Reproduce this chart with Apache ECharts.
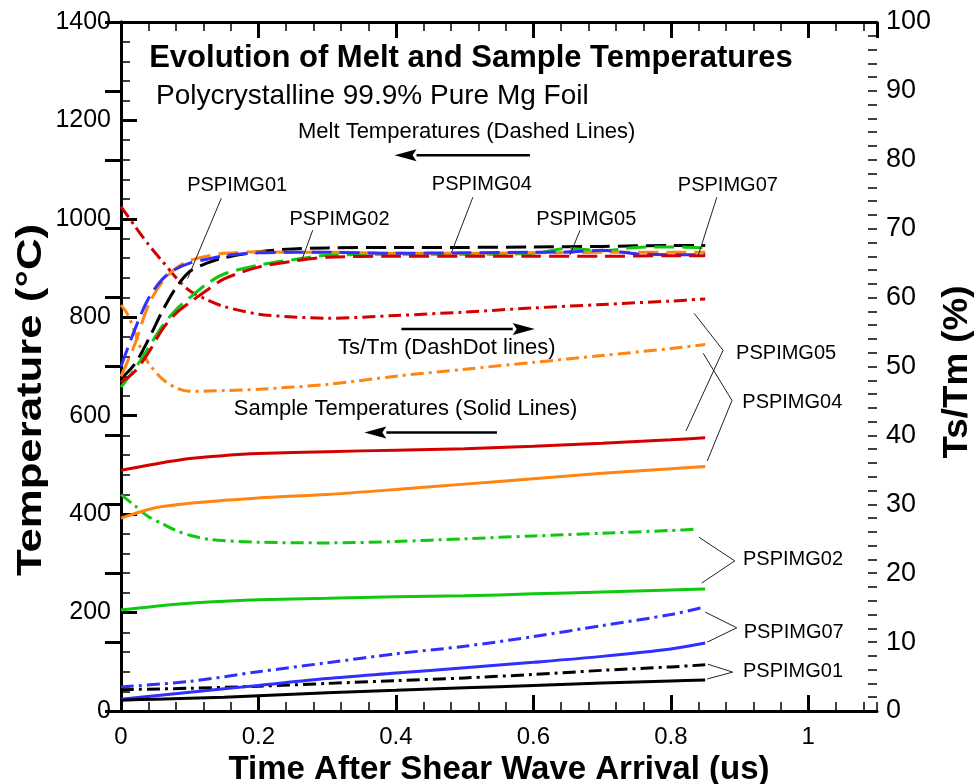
<!DOCTYPE html>
<html>
<head>
<meta charset="utf-8">
<script src="https://cdn.jsdelivr.net/npm/echarts@6/dist/echarts.min.js"></script>
<style>
  html, body { margin: 0; background: #fff; }
  #chart { width: 978px; height: 784px; }
</style>
</head>
<body>
<div id="chart"></div>
<script>
  const FONT = '"Liberation Sans", Arial, sans-serif';

  // time axis (us)
  const tMelt = [0, 0.02, 0.04, 0.06, 0.08, 0.1, 0.125, 0.15, 0.2, 0.25, 0.3, 0.4, 0.5, 0.6, 0.7, 0.8, 0.85];
  const tMeltBump = [0, 0.02, 0.04, 0.06, 0.08, 0.1, 0.125, 0.15, 0.2, 0.25, 0.3, 0.4, 0.5, 0.6, 0.65, 0.7, 0.75, 0.8, 0.85];
  const tSample = [0, 0.05, 0.1, 0.15, 0.2, 0.3, 0.4, 0.5, 0.6, 0.7, 0.8, 0.85];
  const tRatio = [0, 0.02, 0.04, 0.06, 0.08, 0.1, 0.125, 0.15, 0.2, 0.25, 0.3, 0.4, 0.5, 0.6, 0.7, 0.8, 0.85];
  const tRatio04 = [0, 0.01, 0.02, 0.03, 0.04, 0.06, 0.08, 0.1, 0.15, 0.2, 0.3, 0.4, 0.5, 0.6, 0.7, 0.8, 0.85];
  const tRatio02 = [0, 0.02, 0.04, 0.06, 0.08, 0.1, 0.13, 0.2, 0.3, 0.4, 0.5, 0.6, 0.7, 0.8, 0.84];
  const tLinear = [0, 0.1, 0.2, 0.3, 0.4, 0.5, 0.6, 0.7, 0.8, 0.85];

  // melt temperatures (°C) - dashed
  const melt01 = [675, 705, 755, 812, 860, 893, 910, 921, 933, 939, 941, 942, 942, 943, 944, 946, 946];
  const melt02 = [658, 695, 738, 782, 815, 840, 868, 888, 906, 917, 926, 928, 928, 930, 940, 935, 942, 943, 941];
  const melt04 = [680, 745, 825, 872, 900, 915, 924, 930, 933, 932, 932, 930, 930, 931, 932, 932, 932];
  const melt05 = [668, 690, 728, 775, 808, 830, 855, 878, 902, 914, 922, 924, 924, 924, 924, 925, 925];
  const melt07 = [700, 775, 838, 877, 898, 910, 918, 925, 931, 932, 932, 930, 931, 932, 933, 936, 929, 927, 927];

  // sample temperatures (°C) - solid
  const sample01 = [22, 24, 26, 28, 31, 37, 42, 47, 52, 57, 61, 63];
  const sample02 = [205, 213, 219, 223, 226, 229, 232, 234, 238, 242, 246, 248];
  const sample04 = [392, 413, 422, 428, 433, 440, 450, 461, 472, 483, 492, 497];
  const sample05 = [489, 502, 513, 519, 523, 527, 530, 533, 538, 544, 551, 555];
  const sample07 = [24, 31, 38, 45, 52, 66, 77, 88, 99, 111, 126, 138];

  // Ts/Tm (%) - dashdot
  const ratio01 = [3.1, 3.3, 3.6, 4.0, 4.4, 4.8, 5.3, 5.9, 6.4, 6.7];
  const ratio02 = [31.4, 29.8, 28.2, 27.2, 26.2, 25.5, 24.9, 24.5, 24.4, 24.6, 25.0, 25.4, 25.8, 26.2, 26.4];
  const ratio04 = [58.9, 57.5, 55.0, 52.3, 50.5, 48.2, 46.9, 46.4, 46.5, 46.7, 47.4, 48.6, 49.6, 50.6, 51.6, 52.6, 53.2];
  const ratio05 = [73.2, 70.4, 67.7, 65.3, 62.9, 61.0, 59.7, 58.7, 57.6, 57.2, 57.0, 57.4, 57.9, 58.5, 59.0, 59.5, 59.8];
  const ratio07 = [3.5, 4.3, 5.7, 7.0, 8.3, 9.4, 10.8, 12.4, 14.0, 15.1];

  const COLORS = { '01': '#000000', '02': '#10c810', '04': '#ff8410', '05': '#d40000', '07': '#2f2fff' };
  const DASHED = [20, 8];
  const DASHDOT = [13, 5, 3, 5];

  function pairs(xs, ys) {
    return xs.map((x, i) => [x, ys[i]]);
  }

  function line(name, id, xs, ys, dash, yIndex) {
    return {
      name: name,
      type: 'line',
      yAxisIndex: yIndex,
      data: pairs(xs, ys),
      showSymbol: false,
      symbol: 'none',
      smooth: 0.3,
      silent: true,
      lineStyle: { color: COLORS[id], width: 3, type: dash, cap: 'butt' }
    };
  }

  const series = [
    line('PSPIMG05 Ts/Tm', '05', tRatio, ratio05, DASHDOT, 1),
    line('PSPIMG04 Ts/Tm', '04', tRatio04, ratio04, DASHDOT, 1),
    line('PSPIMG02 Ts/Tm', '02', tRatio02, ratio02, DASHDOT, 1),
    line('PSPIMG07 Ts/Tm', '07', tLinear, ratio07, DASHDOT, 1),
    line('PSPIMG01 Ts/Tm', '01', tLinear, ratio01, DASHDOT, 1),
    line('PSPIMG01 melt', '01', tMelt, melt01, DASHED, 0),
    line('PSPIMG02 melt', '02', tMeltBump, melt02, DASHED, 0),
    line('PSPIMG04 melt', '04', tMelt, melt04, DASHED, 0),
    line('PSPIMG07 melt', '07', tMeltBump, melt07, DASHED, 0),
    line('PSPIMG05 melt', '05', tMelt, melt05, DASHED, 0),
    line('PSPIMG05 sample', '05', tSample, sample05, 'solid', 0),
    line('PSPIMG04 sample', '04', tSample, sample04, 'solid', 0),
    line('PSPIMG02 sample', '02', tSample, sample02, 'solid', 0),
    line('PSPIMG07 sample', '07', tSample, sample07, 'solid', 0),
    line('PSPIMG01 sample', '01', tSample, sample01, 'solid', 0)
  ];

  function xMajor(pos, withLabels) {
    return {
      type: 'value', position: pos, min: 0, max: 1.1, interval: 0.2,
      axisLine: { show: true, onZero: false, lineStyle: { color: '#000', width: 3 } },
      axisTick: { show: true, inside: true, length: 16, lineStyle: { color: '#000', width: 3 } },
      axisLabel: { show: withLabels, fontSize: 24, color: '#000', fontFamily: FONT, margin: 14, showMaxLabel: false },
      splitLine: { show: false },
      name: withLabels ? 'Time After Shear Wave Arrival (us)' : '',
      nameLocation: 'middle', nameGap: 40,
      nameTextStyle: { fontSize: 33, fontWeight: 'bold', color: '#000', fontFamily: FONT }
    };
  }
  // minor ticks are drawn by label-less companion axes
  function minorAxis(pos, max, step) {
    return {
      type: 'value', position: pos, min: 0, max: max, interval: step,
      axisLine: { show: false, onZero: false },
      axisTick: { show: true, inside: true, length: 9, lineStyle: { color: '#000', width: 1.5 } },
      axisLabel: { show: false },
      splitLine: { show: false }
    };
  }
  function yMajor(pos, max, interval, labelSize, margin) {
    return {
      type: 'value', position: pos, min: 0, max: max, interval: interval,
      axisLine: { show: true, lineStyle: { color: '#000', width: 3 } },
      axisTick: { show: true, inside: true, length: 16, lineStyle: { color: '#000', width: 3 } },
      axisLabel: { fontSize: labelSize, color: '#000', fontFamily: FONT, margin: margin, formatter: v => String(v) },
      splitLine: { show: false }
    };
  }

  const chart = echarts.init(document.getElementById('chart'));
  chart.setOption({
    animation: false,
    backgroundColor: '#fff',
    grid: { left: 121, right: 101, top: 22, bottom: 73, outerBoundsMode: 'none', containLabel: false },
    xAxis: [xMajor('bottom', true), minorAxis('bottom', 1.1, 0.04), xMajor('top', false), minorAxis('top', 1.1, 0.04)],
    yAxis: [
      yMajor('left', 1400, 200, 25, 10),
      yMajor('right', 100, 10, 27, 9),
      minorAxis('left', 1400, 40),
      minorAxis('right', 100, 2)
    ],
    series: series
  });

  // annotations, placed in data units of the left axis (us, °C)
  const notes = [
    { text: 'Evolution of Melt and Sample Temperatures', at: [0.041, 1326], size: 31, bold: true, align: 'left' },
    { text: 'Polycrystalline 99.9% Pure Mg Foil', at: [0.051, 1249], size: 28, align: 'left' },
    { text: 'Melt Temperatures (Dashed Lines)', at: [0.503, 1176], size: 22, align: 'center' },
    { text: 'Ts/Tm (DashDot lines)', at: [0.474, 737], size: 22, align: 'center' },
    { text: 'Sample Temperatures (Solid Lines)', at: [0.414, 613], size: 22, align: 'center' },
    { text: 'PSPIMG01', at: [0.169, 1068], size: 20, align: 'center' },
    { text: 'PSPIMG02', at: [0.318, 998], size: 20, align: 'center' },
    { text: 'PSPIMG04', at: [0.525, 1070], size: 20, align: 'center' },
    { text: 'PSPIMG05', at: [0.677, 998], size: 20, align: 'center' },
    { text: 'PSPIMG07', at: [0.883, 1068], size: 20, align: 'center' },
    { text: 'PSPIMG05', at: [0.895, 727], size: 20, align: 'left' },
    { text: 'PSPIMG04', at: [0.904, 627], size: 20, align: 'left' },
    { text: 'PSPIMG02', at: [0.905, 307], size: 20, align: 'left' },
    { text: 'PSPIMG07', at: [0.906, 160], size: 20, align: 'left' },
    { text: 'PSPIMG01', at: [0.905, 81], size: 20, align: 'left' }
  ];
  const leaders = [
    [[0.146, 1042], [0.097, 879]],
    [[0.279, 977], [0.264, 920]],
    [[0.512, 1044], [0.481, 932]],
    [[0.668, 977], [0.653, 926]],
    [[0.867, 1044], [0.840, 926]],
    [[0.834, 808], [0.876, 733], [0.822, 569]],
    [[0.847, 727], [0.889, 631], [0.853, 508]],
    [[0.841, 353], [0.893, 305], [0.845, 260]],
    [[0.850, 201], [0.896, 169], [0.853, 140]],
    [[0.854, 95], [0.890, 79], [0.853, 65]]
  ];
  const arrows = [
    { from: [0.595, 1129], to: [0.398, 1129] },
    { from: [0.408, 776], to: [0.602, 776] },
    { from: [0.547, 566], to: [0.354, 566] }
  ];

  function px(p) {
    return chart.convertToPixel({ xAxisIndex: 0, yAxisIndex: 0 }, p);
  }

  const graphic = [];
  notes.forEach(n => {
    const p = px(n.at);
    graphic.push({
      type: 'text', x: p[0], y: p[1], z: 100,
      style: {
        text: n.text, fill: '#000', fontFamily: FONT, fontSize: n.size,
        fontWeight: n.bold ? 'bold' : 'normal', align: n.align, verticalAlign: 'middle'
      }
    });
  });
  // axis titles: the reference type is a little wider than Liberation Sans
  graphic.push({
    type: 'text', x: 31, y: 400, rotation: Math.PI / 2, scaleX: 1.25, z: 100,
    style: { text: 'Temperature (°C)', fill: '#000', fontFamily: FONT, fontSize: 35, fontWeight: 'bold', align: 'center', verticalAlign: 'middle' }
  });
  graphic.push({
    type: 'text', x: 957, y: 372, rotation: Math.PI / 2, scaleX: 1.05, z: 100,
    style: { text: 'Ts/Tm (%)', fill: '#000', fontFamily: FONT, fontSize: 35, fontWeight: 'bold', align: 'center', verticalAlign: 'middle' }
  });
  leaders.forEach(l => {
    graphic.push({
      type: 'polyline', z: 100,
      shape: { points: l.map(px) },
      style: { stroke: '#222', lineWidth: 1, fill: null }
    });
  });
  arrows.forEach(a => {
    const f = px(a.from), t = px(a.to);
    const dir = Math.sign(t[0] - f[0]);
    const headLen = 22, headHalf = 6;
    const base = t[0] - dir * headLen;
    graphic.push({
      type: 'line', z: 100,
      shape: { x1: f[0], y1: f[1], x2: base, y2: t[1] },
      style: { stroke: '#000', lineWidth: 2.5 }
    });
    graphic.push({
      type: 'polygon', z: 100,
      shape: { points: [[t[0], t[1]], [base, t[1] - headHalf], [base + dir * 4, t[1]], [base, t[1] + headHalf]] },
      style: { fill: '#000' }
    });
  });
  chart.setOption({ graphic: graphic });
</script>
</body>
</html>
